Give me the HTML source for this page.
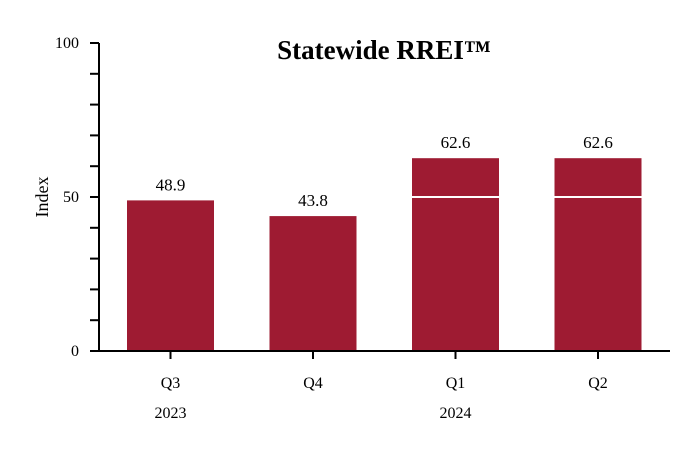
<!DOCTYPE html>
<html><head><meta charset="utf-8"><style>
html,body{margin:0;padding:0;background:#fff;width:700px;height:466px;overflow:hidden}
text{font-family:"Liberation Serif",serif;fill:#000}
</style></head><body>
<svg id="chart" width="700" height="466" viewBox="0 0 700 466" xmlns="http://www.w3.org/2000/svg">
<text x="384" y="59" text-anchor="middle" font-size="27" font-weight="bold">Statewide RREI™</text>
<text transform="translate(48,197) rotate(-90)" text-anchor="middle" font-size="18">Index</text>
<g id="plot"></g>
</svg>
<script>
const categories = ["Q3","Q4","Q1","Q2"];
const years = ["2023","","2024",""];
const values = [48.9, 43.8, 62.6, 62.6];
const yTicks = [0, 50, 100];
const yMinorStep = 10;
const threshold = 50;

const NS = "http://www.w3.org/2000/svg";
const g = document.getElementById("plot");
const x0 = 99, x1 = 670, yBase = 351, yTop = 43;
const y = v => yBase - (v / 100) * (yBase - yTop);
const step = 142.5, firstCenter = 170.5, barW = 87;
const xc = i => firstCenter + i * step;
function el(tag, attrs){const e=document.createElementNS(NS,tag);for(const k in attrs)e.setAttribute(k,attrs[k]);g.appendChild(e);return e;}

for (let i = 0; i < categories.length; i++) {
  const v = values[i];
  const b = el("rect",{x:xc(i)-barW/2,y:y(v),width:barW,height:yBase-y(v),fill:"#9e1b32"});
  
  
  if (v > threshold) {
    const l = el("line",{x1:xc(i)-barW/2,x2:xc(i)+barW/2,y1:y(threshold),y2:y(threshold),stroke:"#fff","stroke-width":2});
    
    
  }
  const t = el("text",{x:xc(i),y:y(v)-10,"text-anchor":"middle","font-size":17});
  t.textContent = v.toFixed(1);
  
  
  const tk = el("line",{x1:xc(i),x2:xc(i),y1:yBase,y2:yBase+8,stroke:"#000","stroke-width":2});
  
  
  const c = el("text",{x:xc(i),y:388,"text-anchor":"middle","font-size":16});
  c.textContent = categories[i];
  
  
  if (years[i]) {
    const yr = el("text",{x:xc(i),y:418,"text-anchor":"middle","font-size":16});
    yr.textContent = years[i];
    
    
  }
}
for (let v = 0; v <= 100; v += yMinorStep) {
  const tk = el("line",{x1:90,x2:x0,y1:y(v),y2:y(v),stroke:"#000","stroke-width":2});
  
  
}
yTicks.forEach(v => {
  const t = el("text",{x:79,y:y(v)+5,"text-anchor":"end","font-size":16});
  t.textContent = v;
  
  
});
const ya = el("line",{x1:x0,x2:x0,y1:yTop,y2:yBase+1,stroke:"#000","stroke-width":2});


const xa = el("line",{x1:x0-1,x2:x1,y1:yBase,y2:yBase,stroke:"#000","stroke-width":2});


</script>
</body></html>
